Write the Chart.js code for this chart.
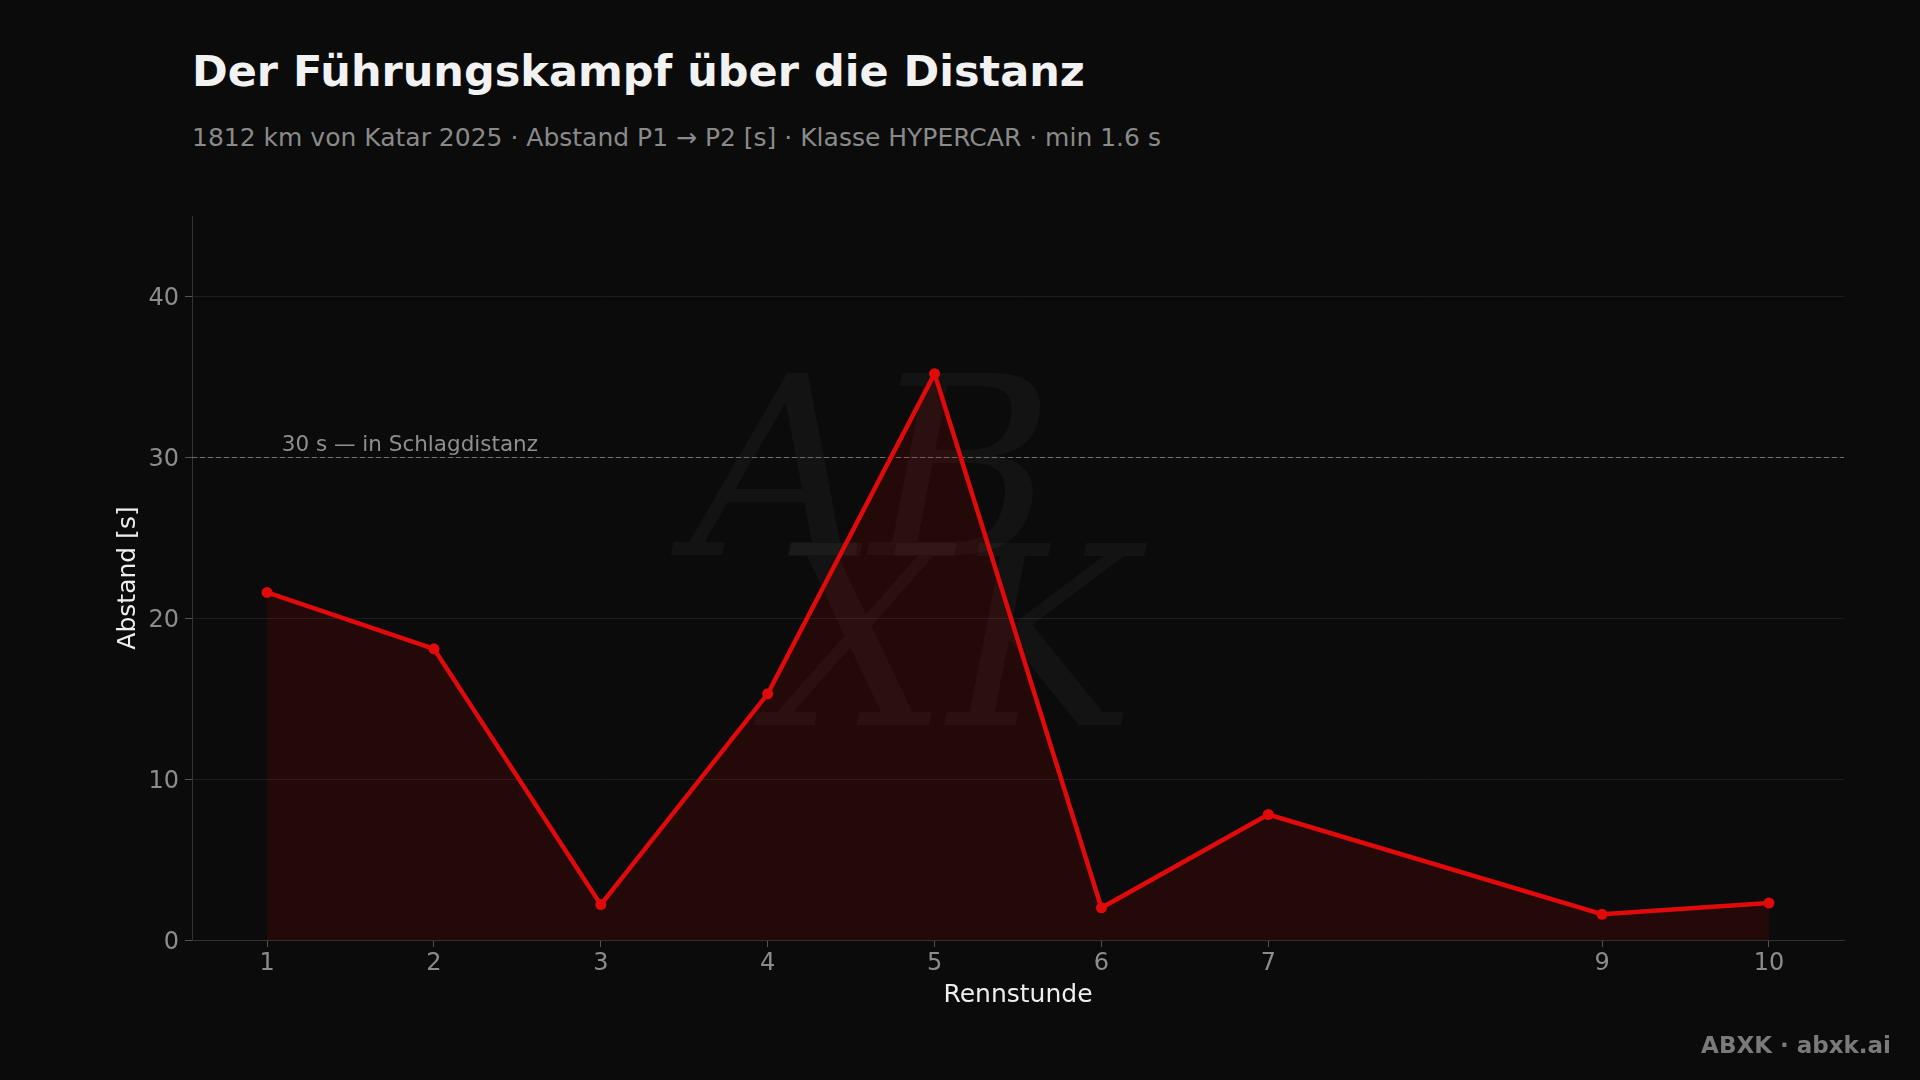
<!DOCTYPE html>
<html lang="de">
<head>
<meta charset="utf-8">
<title>Der Führungskampf über die Distanz</title>
<script src="https://cdn.jsdelivr.net/npm/chart.js@4.4.1/dist/chart.umd.min.js"></script>
<style>
  html, body { margin: 0; padding: 0; background: #0b0b0b; }
  body { width: 1920px; height: 1080px; position: relative; overflow: hidden; font-family: "DejaVu Sans", sans-serif; }
  #chart { position: absolute; left: 0; top: 0; }
  .title { position: absolute; left: 192px; top: 50px; font-size: 43px; line-height: 1; font-weight: bold; color: #f2f2f2; white-space: nowrap; }
  .subtitle { position: absolute; left: 192px; top: 125px; font-size: 25px; line-height: 1; color: #8a8a8a; white-space: nowrap; }
  .footer { position: absolute; right: 29px; top: 1034px; font-size: 23px; line-height: 1; font-weight: bold; color: #7a7a7a; white-space: nowrap; }
</style>
</head>
<body>
<div class="title">Der Führungskampf über die Distanz</div>
<div class="subtitle">1812 km von Katar 2025 · Abstand P1 → P2 [s] · Klasse HYPERCAR · min 1.6 s</div>
<canvas id="chart" width="1920" height="1080"></canvas>
<div class="footer">ABXK · abxk.ai</div>

<script>
// race hour and gap P1 -> P2 in seconds (hour 8 missing in the source)
const hours = [1, 2, 3, 4, 5, 6, 7, 9, 10];
const gaps = [21.6, 18.1, 2.2, 15.3, 35.2, 2.0, 7.8, 1.6, 2.3];
const yTicks = [0, 10, 20, 30, 40];
const threshold = 30;
const thresholdLabel = '30 s — in Schlagdistanz';

const red = '#e00a0a';
const tickGray = '#8c8c8c';

const watermark = {
    id: 'watermark',
    beforeDatasetsDraw(chart) {
        const ctx = chart.ctx;
        ctx.save();
        ctx.fillStyle = 'rgba(255,255,255,0.035)';
        ctx.font = 'italic 250px "DejaVu Serif"';
        ctx.textBaseline = 'alphabetic';
        ctx.fillText('AB', 690, 555);
        ctx.fillText('XK', 770, 725);
        ctx.restore();
    }
};

const thresholdLine = {
    id: 'thresholdLine',
    beforeDatasetsDraw(chart) {
        const { ctx, chartArea, scales } = chart;
        const y = Math.round(scales.y.getPixelForValue(threshold)) + 0.5;
        ctx.save();
        ctx.strokeStyle = '#6e6e6e';
        ctx.lineWidth = 1;
        ctx.setLineDash([5, 3]);
        ctx.beginPath();
        ctx.moveTo(chartArea.left, y);
        ctx.lineTo(chartArea.right, y);
        ctx.stroke();
        ctx.setLineDash([]);
        ctx.fillStyle = '#8f8f8f';
        ctx.font = '21.5px "DejaVu Sans"';
        ctx.textBaseline = 'bottom';
        ctx.fillText(thresholdLabel, scales.x.getPixelForValue(1.1) - 2, y - 1);
        ctx.restore();
    }
};

new Chart(document.getElementById('chart'), {
    type: 'line',
    data: {
        datasets: [{
            data: hours.map((h, i) => ({ x: h, y: gaps[i] })),
            borderColor: red,
            borderWidth: 4.5,
            backgroundColor: 'rgba(220,0,0,0.12)',
            fill: 'origin',
            pointRadius: 5.5,
            pointBackgroundColor: red,
            pointBorderWidth: 0,
            tension: 0
        }]
    },
    options: {
        responsive: false,
        devicePixelRatio: 1,
        animation: false,
        layout: { padding: { top: 216, right: 76, bottom: 70, left: 0 } },
        plugins: {
            legend: { display: false },
            tooltip: { enabled: false }
        },
        scales: {
            x: {
                type: 'linear',
                min: 0.55,
                max: 10.45,
                afterBuildTicks: scale => { scale.ticks = hours.map(v => ({ value: v })); },
                afterFit: scale => { scale.height = 70; },
                grid: { drawOnChartArea: false, tickLength: 7, tickColor: '#555' },
                border: { color: '#333', width: 1 },
                ticks: { color: tickGray, font: { family: 'DejaVu Sans', size: 24 }, padding: 2, maxRotation: 0 },
                title: { display: true, text: 'Rennstunde', color: '#eeeeee', font: { family: 'DejaVu Sans', size: 25 }, padding: { top: 0, bottom: 0 } }
            },
            y: {
                min: 0,
                max: 45,
                afterBuildTicks: scale => { scale.ticks = yTicks.map(v => ({ value: v })); },
                afterFit: scale => { scale.width = 192; },
                grid: { color: '#1e1e1e', tickLength: 7, tickColor: '#555' },
                border: { color: '#333', width: 1 },
                ticks: { color: tickGray, font: { family: 'DejaVu Sans', size: 24 }, padding: 6, labelOffset: 2.5 },
                title: { display: true, text: 'Abstand [s]', color: '#eeeeee', font: { family: 'DejaVu Sans', size: 25 }, padding: { top: 113, bottom: 0 } }
            }
        }
    },
    plugins: [watermark, thresholdLine]
});
</script>
</body>
</html>
